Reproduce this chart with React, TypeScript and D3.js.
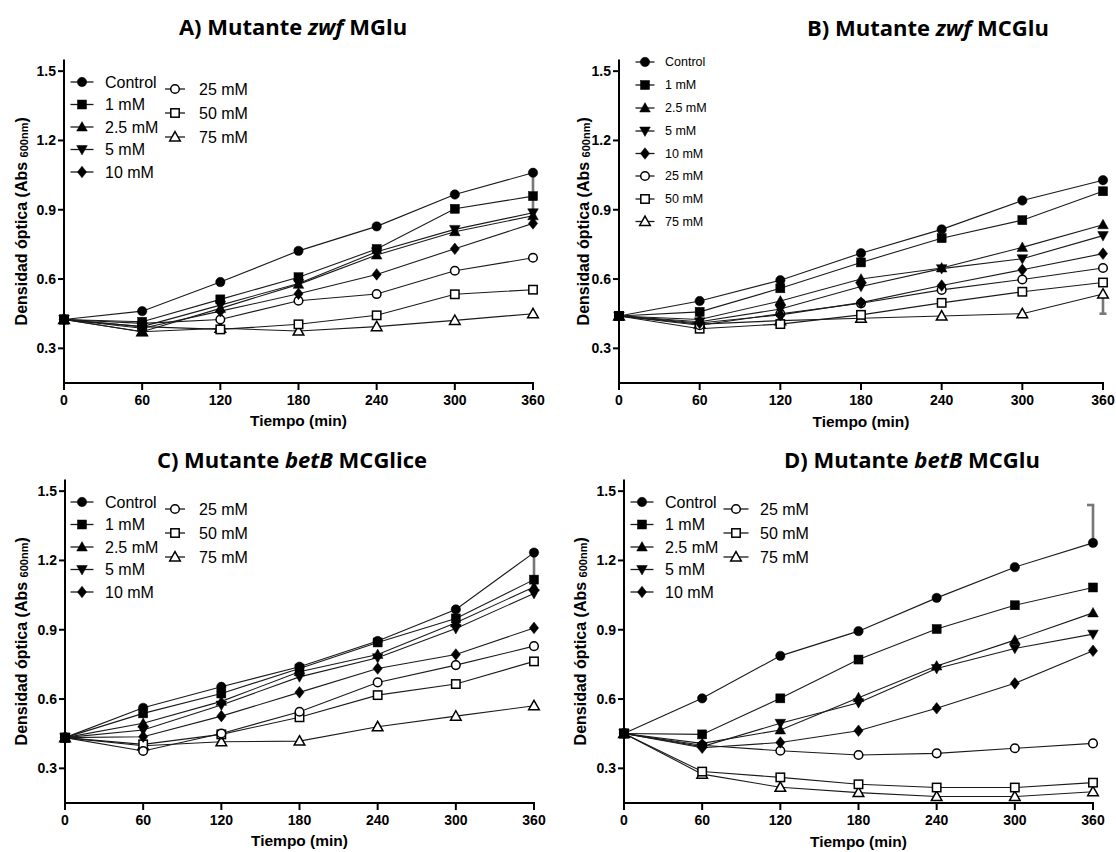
import React from "react";
import * as d3 from "d3";

const times = [0, 60, 120, 180, 240, 300, 360];
const xTicks = [0, 60, 120, 180, 240, 300, 360];
const yTicks = [0.3, 0.6, 0.9, 1.2, 1.5];
const seriesNames = ["Control", "1 mM", "2.5 mM", "5 mM", "10 mM", "25 mM", "50 mM", "75 mM"];
const seriesSymbols = ["circle", "square", "triangle", "triangleDown", "diamond", "circleOpen", "squareOpen", "triangleOpen"];

// Panel A – Mutante zwf MGlu
const valuesA = [
  [0.425, 0.461, 0.587, 0.722, 0.828, 0.966, 1.06],
  [0.425, 0.415, 0.512, 0.608, 0.73, 0.904, 0.959],
  [0.425, 0.372, 0.473, 0.577, 0.704, 0.805, 0.874],
  [0.425, 0.394, 0.487, 0.581, 0.718, 0.815, 0.887],
  [0.425, 0.387, 0.461, 0.536, 0.62, 0.731, 0.841],
  [0.425, 0.408, 0.425, 0.506, 0.535, 0.636, 0.692],
  [0.425, 0.394, 0.382, 0.404, 0.443, 0.534, 0.554],
  [0.425, 0.372, 0.387, 0.375, 0.394, 0.421, 0.45],
];
// Panel B – Mutante zwf MCGlu
const valuesB = [
  [0.44, 0.505, 0.595, 0.712, 0.815, 0.94, 1.028],
  [0.44, 0.458, 0.56, 0.672, 0.777, 0.855, 0.98],
  [0.44, 0.425, 0.505, 0.6, 0.648, 0.737, 0.835],
  [0.44, 0.415, 0.47, 0.568, 0.645, 0.688, 0.788],
  [0.44, 0.41, 0.445, 0.498, 0.572, 0.64, 0.71],
  [0.44, 0.4, 0.45, 0.495, 0.553, 0.598, 0.648],
  [0.44, 0.385, 0.405, 0.445, 0.497, 0.545, 0.585],
  [0.44, 0.405, 0.42, 0.43, 0.44, 0.45, 0.535],
];
// Panel C – Mutante betB MCGlice
const valuesC = [
  [0.433, 0.562, 0.653, 0.74, 0.851, 0.988, 1.234],
  [0.433, 0.538, 0.624, 0.732, 0.845, 0.949, 1.117],
  [0.433, 0.495, 0.59, 0.718, 0.793, 0.93, 1.085],
  [0.433, 0.466, 0.574, 0.696, 0.779, 0.905, 1.057],
  [0.433, 0.437, 0.526, 0.629, 0.732, 0.793, 0.908],
  [0.433, 0.375, 0.451, 0.545, 0.672, 0.747, 0.829],
  [0.433, 0.404, 0.447, 0.521, 0.617, 0.665, 0.763],
  [0.433, 0.398, 0.415, 0.418, 0.48, 0.526, 0.571],
];
// Panel D – Mutante betB MCGlu
const valuesD = [
  [0.451, 0.603, 0.787, 0.894, 1.038, 1.171, 1.276],
  [0.451, 0.447, 0.603, 0.771, 0.903, 1.006, 1.083],
  [0.451, 0.408, 0.466, 0.606, 0.743, 0.855, 0.973],
  [0.451, 0.394, 0.495, 0.584, 0.732, 0.819, 0.881],
  [0.451, 0.389, 0.412, 0.463, 0.56, 0.668, 0.809],
  [0.451, 0.4, 0.376, 0.358, 0.365, 0.387, 0.408],
  [0.451, 0.286, 0.261, 0.231, 0.217, 0.217, 0.238],
  [0.451, 0.275, 0.218, 0.195, 0.178, 0.178, 0.199],
];
// error bars: [time, low, high, capAt]
const errorA = [360, 0.87, 1.04];
const errorB = [360, 0.45, 0.535];
const errorC = [360, 1.117, 1.234];
const errorD = [360, 1.276, 1.44];

const titleParts = [
  ["A) Mutante ", "zwf", " MGlu"],
  ["B) Mutante ", "zwf", " MCGlu"],
  ["C) Mutante ", "betB", " MCGlice"],
  ["D) Mutante ", "betB", " MCGlu"],
];

const FONT = "'Liberation Sans', Arial, sans-serif";

function Marker({ kind, cx, cy }: { kind: string; cx: number; cy: number }) {
  const s = 4.6;
  const open = kind.endsWith("Open");
  const fill = open ? "#fff" : "#000";
  const stroke = "#000";
  const sw = open ? 1.5 : 0.5;
  const base = kind.replace("Open", "");
  if (base === "circle") return <circle cx={cx} cy={cy} r={open ? 4.3 : 4.7} fill={fill} stroke={stroke} strokeWidth={sw} />;
  if (base === "square") {
    const h = open ? 4.2 : 4.5;
    return <rect x={cx - h} y={cy - h} width={2 * h} height={2 * h} fill={fill} stroke={stroke} strokeWidth={sw} />;
  }
  if (base === "triangle") {
    const p = `${cx},${cy - 5.4} ${cx + 5.3},${cy + 4} ${cx - 5.3},${cy + 4}`;
    return <polygon points={p} fill={fill} stroke={stroke} strokeWidth={sw} />;
  }
  if (base === "triangleDown") {
    const p = `${cx},${cy + 5.4} ${cx + 5.3},${cy - 4} ${cx - 5.3},${cy - 4}`;
    return <polygon points={p} fill={fill} stroke={stroke} strokeWidth={sw} />;
  }
  if (base === "diamond") {
    const p = `${cx},${cy - 5.8} ${cx + s},${cy} ${cx},${cy + 5.8} ${cx - s},${cy}`;
    return <polygon points={p} fill={fill} stroke={stroke} strokeWidth={sw} />;
  }
  return null;
}

type Cfg = {
  x0: number; x1: number; yb: number;
  values: number[][]; err: number[]; errCap: "top" | "bottom" | "none";
  title: string[]; titleX: number; titleY: number;
  ylabX: number; tiempoY: number;
  legend: { idx: number; lx: number; ly: number; len: number; tx: number }[];
  legendFont: number;
};

function Panel({ cfg }: { cfg: Cfg }) {
  const x = d3.scaleLinear().domain([0, 360]).range([cfg.x0, cfg.x1]);
  const y = d3.scaleLinear().domain([0.15, 1.55]).range([cfg.yb, cfg.yb - 1.4 * 231]);
  const line = d3.line<number>().x((_, i) => x(times[i])).y((d) => y(d));
  const [et, elo, ehi] = cfg.err;
  const ex = x(et);
  return (
    <g>
      <text x={cfg.titleX} y={cfg.titleY} textAnchor="middle" fontFamily="'Open Sans', sans-serif" fontWeight={700} fontSize={22} fill="#000">
        <tspan>{cfg.title[0]}</tspan>
        <tspan fontStyle="italic">{cfg.title[1]}</tspan>
        <tspan>{cfg.title[2]}</tspan>
      </text>
      {/* axes */}
      <line x1={cfg.x0} x2={cfg.x0} y1={y(1.55)} y2={cfg.yb + 1} stroke="#000" strokeWidth={2} />
      <line x1={cfg.x0 - 1} x2={cfg.x1 + 1} y1={cfg.yb} y2={cfg.yb} stroke="#000" strokeWidth={2} />
      {yTicks.map((t) => (
        <g key={t}>
          <line x1={cfg.x0 - 6} x2={cfg.x0} y1={y(t)} y2={y(t)} stroke="#000" strokeWidth={2} />
          <text x={cfg.x0 - 8} y={y(t) + 5} textAnchor="end" fontFamily={FONT} fontWeight={700} fontSize={14} fill="#000">
            {t.toFixed(1)}
          </text>
        </g>
      ))}
      {xTicks.map((t) => (
        <g key={t}>
          <line x1={x(t)} x2={x(t)} y1={cfg.yb} y2={cfg.yb + 7} stroke="#000" strokeWidth={2} />
          <text x={x(t)} y={cfg.yb + 22} textAnchor="middle" fontFamily={FONT} fontWeight={700} fontSize={14} fill="#000">
            {t}
          </text>
        </g>
      ))}
      <text x={(cfg.x0 + cfg.x1) / 2} y={cfg.tiempoY} textAnchor="middle" fontFamily={FONT} fontWeight={700} fontSize={15.5} fill="#000">
        Tiempo (min)
      </text>
      <text
        transform={`translate(${cfg.ylabX},${(y(1.55) + cfg.yb) / 2}) rotate(-90)`}
        textAnchor="middle"
        dominantBaseline="central"
        fontFamily={FONT}
        fontWeight={700}
        fontSize={16}
        fill="#000"
      >
        <tspan>Densidad óptica (Abs </tspan>
        <tspan fontSize={11} dy={3}>600nm</tspan>
        <tspan dy={-3}>)</tspan>
      </text>
      {/* lines */}
      {cfg.values.map((v, i) => (
        <path key={i} d={line(v) || ""} fill="none" stroke="#1a1a1a" strokeWidth={1.1} />
      ))}
      {/* error bar */}
      <line x1={ex} x2={ex} y1={y(elo)} y2={y(ehi)} stroke="#777" strokeWidth={2.6} />
      {cfg.errCap === "top" && <line x1={ex - 6} x2={ex + 1.3} y1={y(ehi)} y2={y(ehi)} stroke="#777" strokeWidth={2.6} />}
      {cfg.errCap === "bottom" && <line x1={ex - 3.5} x2={ex + 3.5} y1={y(elo)} y2={y(elo)} stroke="#777" strokeWidth={2.6} />}
      {/* markers, drawn from last to first so filled ones stay on top */}
      {cfg.values
        .map((v, i) => ({ v, i }))
        .reverse()
        .map(({ v, i }) =>
          v.map((d, j) => <Marker key={`${i}-${j}`} kind={seriesSymbols[i]} cx={x(times[j])} cy={y(d)} />)
        )}
      {/* legend */}
      {cfg.legend.map((l) => (
        <g key={l.idx}>
          <line x1={l.lx - l.len / 2} x2={l.lx + l.len / 2} y1={l.ly} y2={l.ly} stroke="#1a1a1a" strokeWidth={1.3} />
          <Marker kind={seriesSymbols[l.idx]} cx={l.lx} cy={l.ly} />
          <text x={l.tx} y={l.ly} dominantBaseline="central" fontFamily={FONT} fontSize={cfg.legendFont} fill="#000">
            {seriesNames[l.idx]}
          </text>
        </g>
      ))}
    </g>
  );
}

function twoColLegend(c1x: number, c1len: number, c1tx: number, c2x: number, c2len: number, c2tx: number, yOff: number) {
  const ys1 = [82, 104.5, 127, 149.5, 172];
  const ys2 = [89, 113, 137];
  const out = [] as { idx: number; lx: number; ly: number; len: number; tx: number }[];
  ys1.forEach((yy, i) => out.push({ idx: i, lx: c1x, ly: yy + yOff, len: c1len, tx: c1tx }));
  ys2.forEach((yy, i) => out.push({ idx: i + 5, lx: c2x, ly: yy + yOff, len: c2len, tx: c2tx }));
  return out;
}

const legendBYs = [62, 85, 108, 131, 153.5, 176, 199, 221.5];

const panels: Cfg[] = [
  {
    x0: 64, x1: 533, yb: 383, values: valuesA, err: errorA, errCap: "none",
    title: titleParts[0], titleX: 293, titleY: 35, ylabX: 21, tiempoY: 426,
    legend: twoColLegend(82, 23, 105, 175, 20, 199, 0), legendFont: 16,
  },
  {
    x0: 619, x1: 1103, yb: 383, values: valuesB, err: errorB, errCap: "bottom",
    title: titleParts[1], titleX: 928, titleY: 36, ylabX: 583, tiempoY: 427,
    legend: legendBYs.map((yy, i) => ({ idx: i, lx: 645, ly: yy, len: 19, tx: 665 })), legendFont: 12.5,
  },
  {
    x0: 65, x1: 534, yb: 803, values: valuesC, err: errorC, errCap: "none",
    title: titleParts[2], titleX: 292, titleY: 468, ylabX: 21, tiempoY: 846,
    legend: twoColLegend(82, 23, 105, 175, 20, 199, 420), legendFont: 16,
  },
  {
    x0: 624, x1: 1093, yb: 803, values: valuesD, err: errorD, errCap: "top",
    title: titleParts[3], titleX: 912, titleY: 468, ylabX: 580, tiempoY: 847,
    legend: twoColLegend(642, 23, 665, 736, 25, 760, 420), legendFont: 16,
  },
];

export default function App() {
  return (
    <svg width={1116} height={852} style={{ position: "absolute", left: 0, top: 0, background: "#fff" }}>
      <rect width={1116} height={852} fill="#fff" />
      {panels.map((p, i) => (
        <Panel key={i} cfg={p} />
      ))}
    </svg>
  );
}
